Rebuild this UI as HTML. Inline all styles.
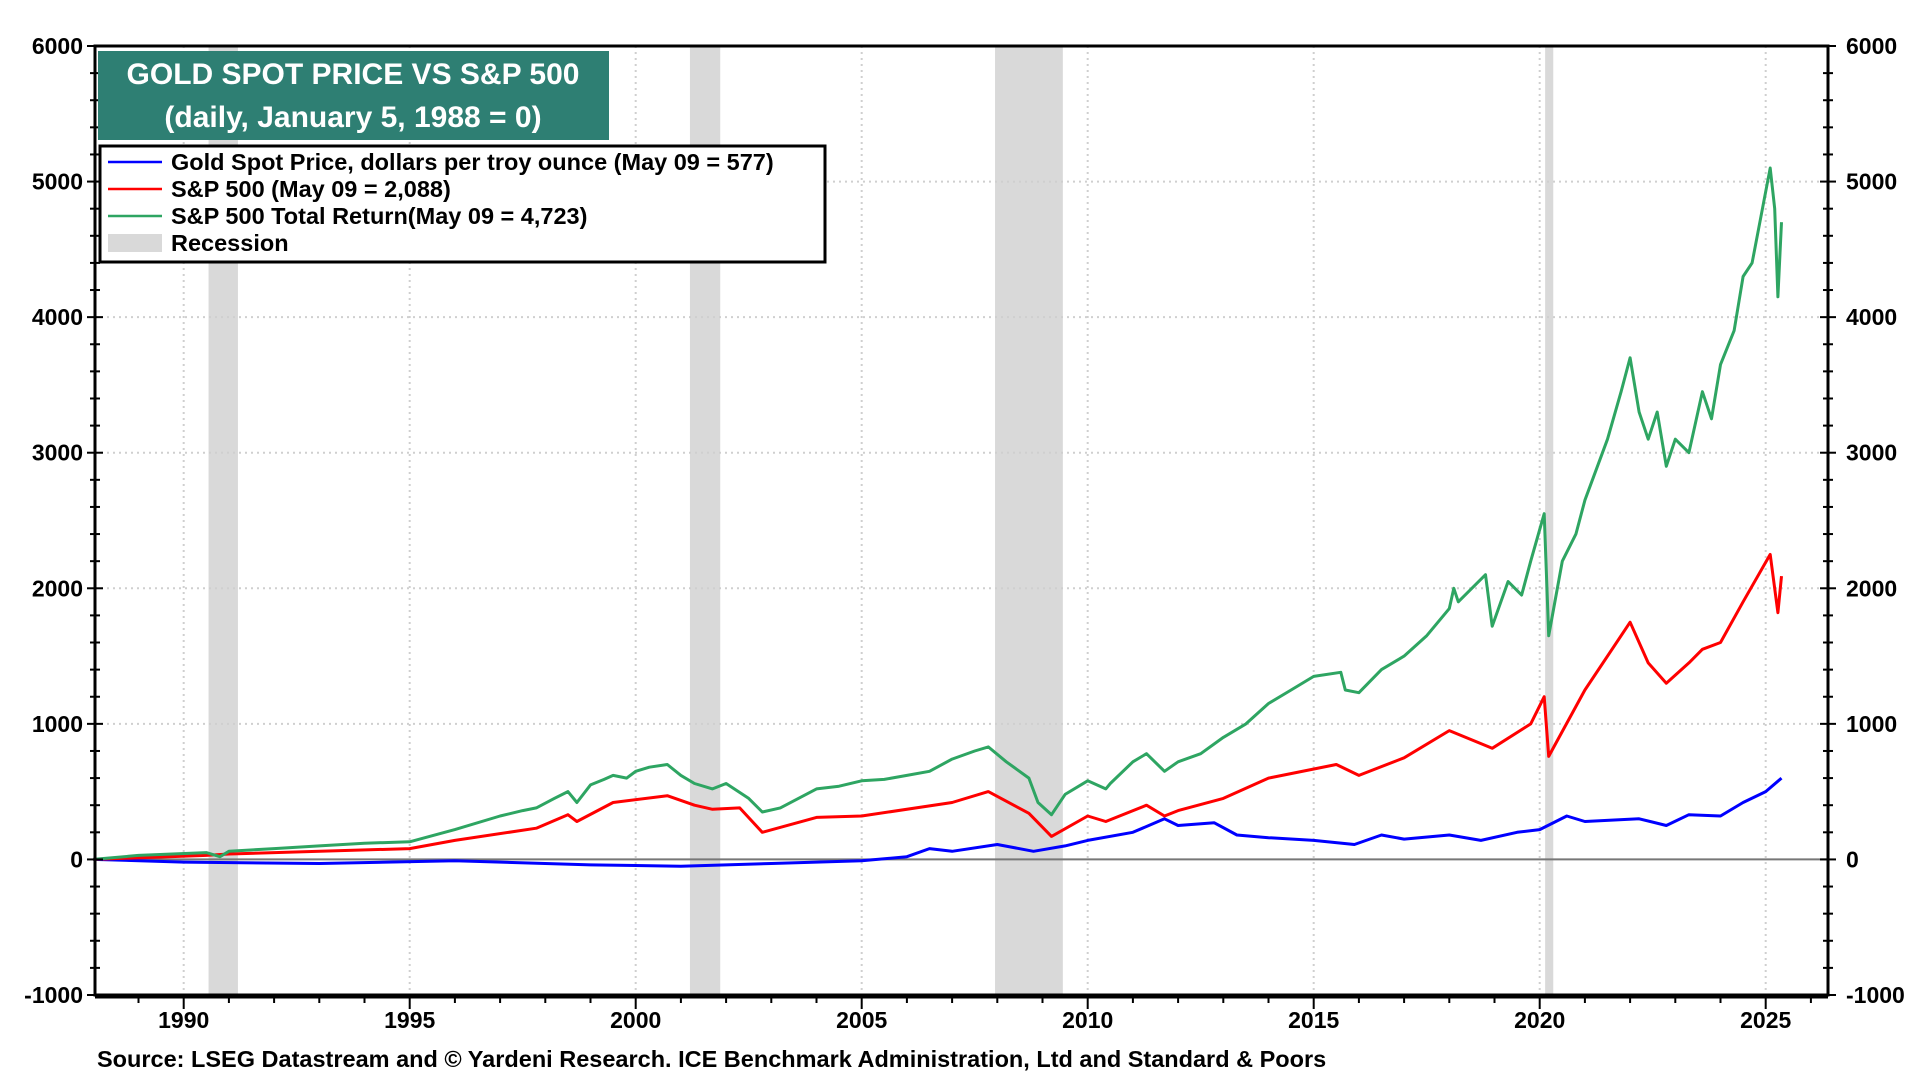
<!DOCTYPE html>
<html><head><meta charset="utf-8"><style>
html,body{margin:0;padding:0;background:#fff;}
svg{display:block;font-family:"Liberation Sans",Arial,sans-serif;font-weight:bold;}
</style></head><body>
<svg id="chart" width="1920" height="1080" viewBox="0 0 1920 1080" xmlns="http://www.w3.org/2000/svg">
<g id="rec"></g>
<g id="grid"></g>
<g id="series"></g>
<g id="axes"></g>
<g>
<rect x="98" y="51" width="511" height="89" fill="#2e7f73"/>
<text x="353" y="84" text-anchor="middle" font-size="30" fill="#fff">GOLD SPOT PRICE VS S&amp;P 500</text>
<text x="353" y="127" text-anchor="middle" font-size="30" fill="#fff">(daily, January 5, 1988 = 0)</text>
</g>
<g>
<rect x="100" y="146" width="725" height="116" fill="#fff" stroke="#000" stroke-width="3"/>
<line x1="108" y1="162" x2="162" y2="162" stroke="#0000ff" stroke-width="2.5"/>
<text x="171" y="170" font-size="23.5">Gold Spot Price, dollars per troy ounce (May 09 = 577)</text>
<line x1="108" y1="189" x2="162" y2="189" stroke="#ff0000" stroke-width="2.5"/>
<text x="171" y="197" font-size="23.5">S&amp;P 500 (May 09 = 2,088)</text>
<line x1="108" y1="216" x2="162" y2="216" stroke="#2ea562" stroke-width="2.5"/>
<text x="171" y="224" font-size="23.5">S&amp;P 500 Total Return(May 09 = 4,723)</text>
<rect x="108" y="234" width="54" height="18" fill="#d9d9d9"/>
<text x="171" y="251" font-size="23.5">Recession</text>
</g>
<text x="97" y="1067" font-size="23.5">Source: LSEG Datastream and © Yardeni Research. ICE Benchmark Administration, Ltd and Standard &amp; Poors</text>
</svg>
<script>
const yTicks=[6000,5000,4000,3000,2000,1000,0,-1000];
const xTicks=[1990,1995,2000,2005,2010,2015,2020,2025];
const recessions=[[1990.55,1991.2],[2001.2,2001.87],[2007.95,2009.45],[2020.12,2020.3]];
const trDates=[1988,1989,1990.5,1990.8,1991,1992,1993,1994,1995,1996,1997,1997.5,1997.8,1998.2,1998.5,1998.7,1999,1999.3,1999.5,1999.8,2000,2000.3,2000.7,2001,2001.3,2001.7,2002,2002.5,2002.8,2003.2,2003.6,2004,2004.5,2005,2005.5,2006,2006.5,2007,2007.5,2007.8,2008.2,2008.7,2008.9,2009.2,2009.5,2010,2010.4,2010.5,2011,2011.3,2011.7,2012,2012.5,2013,2013.5,2014,2014.5,2015,2015.6,2015.7,2016,2016.5,2017,2017.5,2018,2018.1,2018.2,2018.8,2018.95,2019.3,2019.6,2019.8,2020.1,2020.2,2020.5,2020.8,2021,2021.5,2021.8,2022,2022.2,2022.4,2022.6,2022.8,2023,2023.3,2023.6,2023.8,2024,2024.3,2024.5,2024.7,2025.1,2025.2,2025.27,2025.35];
const trValues=[0,30,50,20,60,80,100,120,130,220,320,360,380,450,500,420,550,590,620,600,650,680,700,620,560,520,560,450,350,380,450,520,540,580,590,620,650,740,800,830,720,600,420,330,480,580,520,560,720,780,650,720,780,900,1000,1150,1250,1350,1380,1250,1230,1400,1500,1650,1850,2000,1900,2100,1720,2050,1950,2200,2550,1650,2200,2400,2650,3100,3450,3700,3300,3100,3300,2900,3100,3000,3450,3250,3650,3900,4300,4400,5100,4800,4150,4700];
const spDates=[1988,1990.5,1991,1995,1996,1997.8,1998.5,1998.7,1999.5,2000.7,2001.3,2001.7,2002.3,2002.8,2004,2005,2007,2007.8,2008.7,2009.2,2010,2010.4,2011.3,2011.7,2012,2013,2014,2015.5,2016,2017,2018,2018.95,2019.8,2020.1,2020.2,2021,2022,2022.4,2022.8,2023.3,2023.6,2024,2024.5,2025.1,2025.27,2025.35];
const spValues=[0,30,40,80,140,230,330,280,420,470,400,370,380,200,310,320,420,500,340,170,320,280,400,320,360,450,600,700,620,750,950,820,1000,1200,760,1250,1750,1450,1300,1450,1550,1600,1900,2250,1820,2090];
const goldDates=[1988,1990,1993,1996,1999,2001,2003,2005,2006,2006.5,2007,2008,2008.8,2009.5,2010,2011,2011.7,2012,2012.8,2013.3,2014,2015,2015.9,2016.5,2017,2018,2018.7,2019.5,2020,2020.6,2021,2022.2,2022.8,2023.3,2024,2024.5,2025,2025.35];
const goldValues=[0,-20,-30,-10,-40,-50,-30,-10,20,80,60,110,60,100,140,200,300,250,270,180,160,140,110,180,150,180,140,200,220,320,280,300,250,330,320,420,500,600];
const NS='http://www.w3.org/2000/svg';
const L=95,R=1828,T=46,B=995;
const X=d=>183.7+(d-1990)*(1765.7-183.7)/35;
const Y=v=>T+(6000-v)*(B-T)/7000;
function mk(p,tag,at){const e=document.createElementNS(NS,tag);for(const k in at)e.setAttribute(k,at[k]);p.appendChild(e);return e;}
const rec=document.getElementById('rec'),grid=document.getElementById('grid'),ser=document.getElementById('series'),ax=document.getElementById('axes');
recessions.forEach(r=>{const e=mk(rec,'rect',{x:X(r[0]),y:T,width:X(r[1])-X(r[0]),height:B-T,fill:'#d9d9d9'});

});
yTicks.forEach(v=>{if(v!==6000&&v!==-1000){const e=mk(grid,'line',{x1:L,x2:R,y1:Y(v),y2:Y(v),stroke:v===0?'#777':'#cfcfcf','stroke-width':2,'stroke-dasharray':v===0?'':'2,4'});

}
[[L,'end',L-12],[R,'start',R+18]].forEach(s=>{const t=mk(ax,'text',{x:s[2],y:Y(v)+8,'text-anchor':s[1],'font-size':23});t.textContent=v;


mk(ax,'line',{x1:s[0]-8,x2:s[0]+8,y1:Y(v),y2:Y(v),stroke:'#000','stroke-width':2});});});
for(let v=-1000;v<6000;v+=200){if(v%1000)[L,R].forEach(x=>mk(ax,'line',{x1:x-5,x2:x+5,y1:Y(v),y2:Y(v),stroke:'#000','stroke-width':2}));}
for(let yr=1989;yr<=2026;yr++){mk(ax,'line',{x1:X(yr),x2:X(yr),y1:B,y2:B+(yr%5?8:14),stroke:'#000','stroke-width':2});}
xTicks.forEach(d=>{const g=mk(grid,'line',{x1:X(d),x2:X(d),y1:T,y2:B,stroke:'#cfcfcf','stroke-width':2,'stroke-dasharray':'2,4'});


const t=mk(ax,'text',{x:X(d),y:1028,'text-anchor':'middle','font-size':23});t.textContent=d;

});
function line(ds,vs,c,n){const p=mk(ser,'polyline',{points:ds.map((d,i)=>X(d).toFixed(1)+','+Y(vs[i]).toFixed(1)).join(' '),fill:'none',stroke:c,'stroke-width':3,'stroke-linejoin':'round'});

}
line(goldDates,goldValues,'#0000ff','gold-line');
line(spDates,spValues,'#ff0000','sp500-line');
line(trDates,trValues,'#2ea562','sp500-total-return-line');
const fr=mk(ax,'rect',{x:L,y:T,width:R-L,height:B-T,fill:'none',stroke:'#000','stroke-width':3});


mk(ax,'line',{x1:L,x2:R,y1:B+1,y2:B+1,stroke:'#000','stroke-width':5});
</script>
</body></html>
